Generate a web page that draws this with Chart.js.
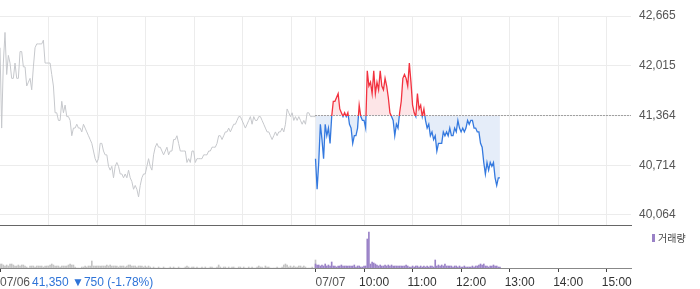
<!DOCTYPE html>
<html>
<head>
<meta charset="utf-8">
<script src="https://cdn.jsdelivr.net/npm/chart.js@4.4.1/dist/chart.umd.min.js"></script>
<style>
  body { margin: 0; background: #fff; }
  #wrap { position: relative; width: 700px; height: 289px; }
  canvas { position: absolute; left: 0; }
  #priceChart { top: 0; }
  #volChart { top: 226px; }
</style>
</head>
<body>
<div id="wrap">
  <canvas id="priceChart" width="700" height="226" style="width:700px;height:226px"></canvas>
  <canvas id="volChart" width="700" height="63" style="width:700px;height:63px"></canvas>
</div>
<script>
// intraday price chart: 07/06 (grey) + 07/07 (red/blue around base line), volume below

// 07/06, 09:00 - 15:30, evenly spaced prints
const prevPrices = [
  42250, 41200, 42050, 42450, 41900, 42150, 42050, 41850, 41850, 42050,
  41850, 41850, 42200, 42200, 42000, 42000, 41750, 41800, 41850, 41700,
  42000, 42250, 42300, 42300, 42300, 42300, 42350, 42050, 42050, 42050,
  42050, 41900, 41750, 41400, 41400, 41300, 41300, 41550, 41400, 41500,
  41350, 41350, 41300, 41100, 41200, 41200, 41250, 41200, 41200, 41150,
  41250, 41200, 41150, 41100, 41050, 41000, 40900, 40800, 40750, 40800,
  41000, 41000, 40900, 40850, 40850, 40700, 40650,
  40700, 40550, 40700, 40750, 40700, 40600, 40600, 40550, 40600, 40550,
  40650, 40550, 40500, 40400, 40450, 40400, 40300, 40450, 40550, 40600,
  40600, 40700, 40800, 40700, 40650, 40850, 40950, 41000, 40950, 40950,
  40900, 40850, 40900, 40950, 40850, 40900, 40900, 41050, 41050, 41100,
  41000, 40900, 40900, 40900, 40900, 40750, 40800, 40750, 40900, 40900,
  40750, 40800, 40800, 40800, 40800, 40850, 40850, 40850, 40900, 40900,
  40950, 40950,
  40950, 41000, 41100, 41100, 41050, 41100, 41150, 41150, 41200, 41150,
  41200, 41250, 41250, 41300, 41350, 41350, 41300, 41250, 41200, 41250,
  41300, 41350, 41250, 41350, 41300, 41300, 41350, 41350, 41300, 41250,
  41200, 41150, 41150, 41100, 41050, 41100, 41150, 41100, 41150, 41150,
  41200, 41150, 41250, 41450, 41400, 41350, 41400, 41300, 41350, 41300,
  41350, 41300, 41250, 41300, 41250, 41400, 41400, 41350, 41350, 41350,
  41350
];

// 07/07, from 09:00, one print every 2 minutes
const todayPrices = [
  40800, 40400, 40750, 41250, 41050, 40800, 41250, 41100, 41200, 41000,
  41350, 41550, 41550, 41600, 41650, 41450, 41400, 41350, 41400, 41350,
  41400, 41250, 41200, 41000, 41100, 41100, 41200, 41500, 41350, 41300,
  41300, 41200, 41950, 41750, 41800, 41650, 41950, 41650, 41800, 41700,
  41950, 41750, 41700, 41850, 41750, 41600, 41400, 41350, 41300, 41100,
  41250, 41200, 41400, 41550, 41850, 41900, 41850, 41750, 42050, 41800,
  41500, 41400, 41350, 41650, 41450, 41500, 41350, 41450, 41300, 41200,
  41250, 41100, 41150, 41050, 41100, 40900, 41000, 41000, 41000, 41150,
  41100, 41150, 41100, 41200, 41100, 41100, 41200, 41150, 41300, 41200,
  41150, 41200, 41150, 41200, 41300, 41250, 41300, 41300, 41200, 41200,
  41150, 41150, 41000, 40950, 40750, 40600, 40750, 40650, 40750, 40700,
  40750, 40550, 40450, 40550, 40550
];

// volume, thousand shares, same spacing as the prices
const prevVolumes = [
  4, 4, 3, 2, 3, 2, 4, 4, 3, 2, 2, 3, 2, 3, 3, 2, 1, 0, 2, 2,
  2, 1, 2, 2, 2, 2, 1, 2, 2, 2, 3, 4, 3, 2, 2, 2, 1, 2, 2, 2,
  2, 3, 4, 3, 3, 1, 0, 0, 0, 1, 1, 2, 1, 2, 2, 7, 2, 2, 2, 2,
  2, 2, 2, 2, 3, 2, 3, 2, 2, 2, 2, 1, 2, 2, 2, 1, 2, 3, 3, 2,
  2, 2, 1, 2, 2, 2, 1, 2, 1, 2, 1, 0, 1, 0, 0, 1, 0, 0, 1, 0,
  0, 0, 1, 0, 1, 0, 0, 1, 0, 0, 0, 1, 2, 1, 0, 1, 1, 0, 1, 0,
  0, 1, 0, 1, 0, 0, 1, 1, 0, 0, 1, 3, 1, 0, 1, 1, 0, 1, 0, 1,
  1, 0, 0, 1, 1, 0, 1, 0, 0, 1, 0, 1, 0, 0, 1, 2, 1, 1, 0, 2,
  1, 1, 0, 0, 0, 0, 1, 0, 0, 1, 3, 4, 3, 1, 2, 1, 2, 1, 1, 2,
  2, 1, 2, 1, 0, 0, 0, 1, 0, 8
];
const todayVolumes = [
  4, 3, 3, 2, 3, 2, 4, 2, 3, 2, 6, 2, 2, 1, 2, 2, 3, 2, 2, 2,
  2, 2, 2, 2, 3, 1, 2, 2, 1, 1, 2, 2, 29, 36, 4, 6, 5, 4, 3, 2,
  3, 2, 2, 3, 2, 3, 2, 3, 2, 2, 2, 2, 2, 2, 2, 2, 3, 2, 1, 1,
  2, 1, 2, 2, 1, 2, 1, 2, 1, 2, 1, 2, 2, 1, 8, 2, 3, 2, 3, 2,
  4, 2, 2, 2, 2, 1, 2, 2, 1, 2, 1, 1, 2, 1, 1, 1, 1, 2, 1, 2,
  2, 3, 4, 3, 4, 2, 2, 1, 2, 2, 3, 2, 2, 1, 1
];

// time axis in minutes: 07/06 09:00 = 0, 07/07 09:00 = 390
const prevSessionMin = 390;
const todayStartMin = 390;
const todayStepMin = 2;
const axisEndMin = 780;

const yTicks = [40064, 40714, 41364, 42015, 42665];
const baseLine = 41364;
const gridMinutes = [60, 120, 180, 240, 300, 360, 390, 450, 510, 570, 630, 690, 750];
const dateLabels = [[0, '07/06'], [390, '07/07']];
const hourLabels = [[450, '10:00'], [510, '11:00'], [570, '12:00'], [630, '13:00'], [690, '14:00'], [750, '15:00']];
const lastPrice = 41350;
const priceChange = -750;
const changePct = -1.78;
const volumeLabel = '거래량';

const upColor = '#f2323f';
const downColor = '#3479df';
const FONT = '"Liberation Sans", Arial, sans-serif';

Chart.defaults.font.family = FONT;
Chart.defaults.font.size = 12;

const fmt = v => v.toLocaleString('en-US');
const prevX = i => i * prevSessionMin / (prevPrices.length - 1);
const todayX = i => todayStartMin + i * todayStepMin;

function splitColor(context) {
  const chart = context.chart;
  const { chartArea, scales } = chart;
  if (!chartArea) return downColor;
  const yRef = scales.y.getPixelForValue(baseLine);
  const r = Math.min(1, Math.max(0, (yRef - chartArea.top) / (chartArea.bottom - chartArea.top)));
  const g = chart.ctx.createLinearGradient(0, chartArea.top, 0, chartArea.bottom);
  g.addColorStop(0, upColor);
  g.addColorStop(r, upColor);
  g.addColorStop(r, downColor);
  g.addColorStop(1, downColor);
  return g;
}

// price panel
new Chart(document.getElementById('priceChart'), {
  type: 'line',
  data: {
    datasets: [
      {
        data: todayPrices.map((v, i) => ({ x: todayX(i), y: v })),
        borderColor: splitColor,
        borderWidth: 1.3,
        fill: { target: { value: baseLine }, above: '#fde5e7', below: '#e5edf9' },
        order: 0
      },
      {
        data: [{ x: todayStartMin, y: baseLine }, { x: axisEndMin, y: baseLine }],
        borderColor: '#555',
        borderWidth: 1,
        borderDash: [1, 2],
        fill: false,
        order: 1
      },
      {
        data: prevPrices.map((v, i) => ({ x: prevX(i), y: v })),
        borderColor: '#c6c8cc',
        borderWidth: 1,
        fill: false,
        order: 2
      }
    ]
  },
  options: {
    responsive: false,
    animation: false,
    layout: { padding: { top: 16, left: 0, right: 0, bottom: 0 } },
    elements: { point: { radius: 0 }, line: { tension: 0 } },
    plugins: {
      legend: { display: false },
      tooltip: { enabled: false },
      filler: { drawTime: 'beforeDatasetsDraw' }
    },
    scales: {
      x: {
        type: 'linear',
        min: 0,
        max: axisEndMin,
        afterBuildTicks: s => { s.ticks = gridMinutes.map(v => ({ value: v })); },
        afterFit: s => { s.height = 1; },
        ticks: { display: false },
        grid: { color: '#ececec', drawTicks: false },
        border: { display: true, color: '#666', width: 1 }
      },
      y: {
        position: 'right',
        min: 39933,
        max: 42665,
        afterBuildTicks: s => { s.ticks = yTicks.map(v => ({ value: v })); },
        afterFit: s => { s.width = 69; s.paddingTop = 0; s.paddingBottom = 0; },
        ticks: { color: '#555', padding: 8, callback: v => fmt(v) },
        grid: { color: '#ececec', drawTicks: false },
        border: { display: false }
      }
    }
  }
});

// axis labels, price info and volume legend for the lower panel
const volTextPlugin = {
  id: 'volText',
  afterDraw(chart) {
    const ctx = chart.ctx;
    const xs = chart.scales.x;
    ctx.save();
    ctx.font = '12px ' + FONT;
    ctx.textBaseline = 'alphabetic';
    ctx.textAlign = 'left';
    ctx.fillStyle = '#555';
    dateLabels.forEach(([v, t]) => ctx.fillText(t, xs.getPixelForValue(v), 60));
    ctx.fillStyle = '#333';
    hourLabels.forEach(([v, t]) => ctx.fillText(t, xs.getPixelForValue(v) - 5, 60));
    ctx.fillStyle = '#2f74d8';
    ctx.fillText(fmt(lastPrice) + ' ▼' + fmt(Math.abs(priceChange)) + ' (' + changePct.toFixed(2) + '%)', 32, 60);
    // legend
    ctx.fillStyle = '#9a82c7';
    ctx.fillRect(652, 8, 3, 8);
    ctx.fillStyle = '#444';
    ctx.font = '10px "Noto Sans CJK KR", sans-serif';
    ctx.textBaseline = 'middle';
    ctx.fillText(volumeLabel, 658, 12);
    ctx.restore();
  }
};

// volume panel
new Chart(document.getElementById('volChart'), {
  type: 'bar',
  data: {
    datasets: [
      {
        data: todayVolumes.map((v, i) => ({ x: todayX(i), y: v })),
        backgroundColor: '#9a82c7'
      },
      {
        data: prevVolumes.map((v, i) => ({ x: prevX(i), y: v })),
        backgroundColor: '#c4c4c4'
      }
    ]
  },
  options: {
    responsive: false,
    animation: false,
    layout: { padding: { top: 0, left: 0, right: 69, bottom: 0 } },
    datasets: { bar: { barThickness: 1, grouped: false, borderWidth: 0 } },
    plugins: { legend: { display: false }, tooltip: { enabled: false } },
    scales: {
      x: {
        type: 'linear',
        offset: false,
        min: 0,
        max: axisEndMin,
        afterBuildTicks: s => {
          s.ticks = dateLabels.concat(hourLabels).map(([v]) => ({ value: v }));
        },
        afterFit: s => { s.height = 21; },
        ticks: { display: false },
        grid: { offset: false, drawOnChartArea: false, drawTicks: true, tickLength: 4, color: '#444' },
        border: { display: true, color: '#888', width: 1 }
      },
      y: {
        display: false,
        min: 0,
        max: 42
      }
    }
  },
  plugins: [volTextPlugin]
});
</script>
</body>
</html>
